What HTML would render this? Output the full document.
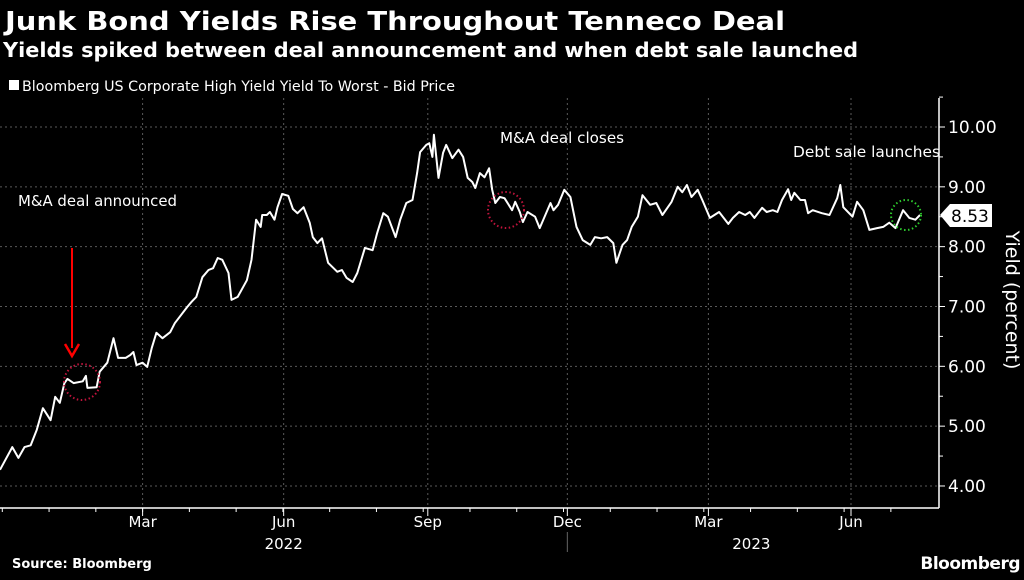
<!DOCTYPE html>
<html><head><meta charset="utf-8"><style>
body{margin:0;background:#000;width:1024px;height:576px;overflow:hidden;font-family:"DejaVu Sans","Liberation Sans",sans-serif;}
svg text{fill:#fff}
</style></head><body>
<svg id="chart" width="1024" height="576">
<text x="5" y="30" font-size="26" font-weight="bold" textLength="780" lengthAdjust="spacingAndGlyphs">Junk Bond Yields Rise Throughout Tenneco Deal</text>
<text x="3" y="57" font-size="20" font-weight="bold" textLength="855" lengthAdjust="spacingAndGlyphs">Yields spiked between deal announcement and when debt sale launched</text>
<rect x="9" y="80" width="10" height="10" fill="#fff"/>
<text x="22" y="91" font-size="14" textLength="433" lengthAdjust="spacingAndGlyphs">Bloomberg US Corporate High Yield Yield To Worst - Bid Price</text>
<g id="grid"></g><g id="axes"></g>
<path id="line" fill="none" stroke="#fff" stroke-width="2" stroke-linejoin="round"/>
<text x="18" y="206" font-size="15" textLength="159" lengthAdjust="spacingAndGlyphs">M&amp;A deal announced</text>
<line x1="72" y1="248" x2="72" y2="348" stroke="#f00" stroke-width="2"/>
<polyline points="65,344 72,356 79,344" fill="none" stroke="#f00" stroke-width="2.5"/>
<circle cx="82" cy="382" r="18" fill="none" stroke="#c0143c" stroke-width="2" stroke-dasharray="1.5 2.5"/>
<text x="500" y="143" font-size="15" textLength="124" lengthAdjust="spacingAndGlyphs">M&amp;A deal closes</text>
<circle cx="506" cy="210" r="18" fill="none" stroke="#c0143c" stroke-width="2" stroke-dasharray="1.5 2.5"/>
<text x="793" y="157" font-size="15" textLength="147" lengthAdjust="spacingAndGlyphs">Debt sale launches</text>
<circle cx="906" cy="215" r="15" fill="none" stroke="#2ecc2e" stroke-width="2" stroke-dasharray="1.5 2.5"/>
<polygon points="940,215 950,204 992,204 992,227 950,227" fill="#fff"/>
<text id="lastval" x="951" y="222" font-size="17" style="fill:#000">8.53</text>
<text transform="translate(1006,300) rotate(90)" text-anchor="middle" font-size="19">Yield (percent)</text>
<text x="12" y="568" font-size="13" font-weight="bold">Source: Bloomberg</text>
<text x="1020" y="569" font-size="17" font-weight="bold" text-anchor="end" letter-spacing="-0.5">Bloomberg</text>
</svg>
<script>
const days=[0,8,12,16,20,24,28,33,36,39,
42,44,48,54,56,57,63,65,70,74,
77,82,85,87,89,93,96,99,102,106,
111,114,122,125,128,132,136,139,142,145,
149,151,155,161,164,167,170,171,174,176,
179,181,184,188,191,194,198,202,204,207,
210,214,220,223,226,230,233,238,243,246,
250,253,258,261,265,269,272,274,278,280,
282,283,286,289,291,295,299,302,305,308,
310,313,316,319,321,323,326,329,334,336,
339,341,344,349,352,359,361,364,368,372,
376,380,385,388,392,396,400,402,406,409,
412,416,419,424,428,432,438,442,445,448,
451,455,458,463,469,475,478,482,486,489,
492,497,500,504,507,510,514,516,518,522,
525,527,530,536,541,546,548,550,556,559,
563,567,572,576,580,584,589,593,597,600];
const yields=[4.27,4.65,4.47,4.65,4.68,4.94,5.30,5.10,5.49,5.39,
5.72,5.79,5.72,5.75,5.84,5.64,5.65,5.91,6.06,6.47,
6.14,6.14,6.19,6.24,6.02,6.06,5.99,6.31,6.56,6.47,
6.57,6.72,6.99,7.08,7.16,7.49,7.61,7.64,7.81,7.78,
7.56,7.11,7.16,7.44,7.78,8.45,8.33,8.53,8.53,8.58,
8.45,8.66,8.88,8.85,8.63,8.56,8.66,8.40,8.16,8.06,
8.14,7.73,7.58,7.61,7.48,7.41,7.56,7.98,7.94,8.23,
8.56,8.50,8.16,8.45,8.73,8.78,9.23,9.58,9.70,9.73,
9.50,9.87,9.15,9.57,9.70,9.48,9.62,9.50,9.15,9.08,
8.98,9.23,9.16,9.31,8.95,8.73,8.83,8.81,8.61,8.75,
8.58,8.41,8.58,8.50,8.31,8.73,8.61,8.70,8.95,8.83,
8.33,8.11,8.03,8.16,8.14,8.16,8.06,7.73,8.03,8.11,
8.33,8.50,8.86,8.70,8.73,8.53,8.75,9.00,8.91,9.03,
8.83,8.95,8.78,8.48,8.58,8.38,8.48,8.58,8.53,8.58,
8.48,8.65,8.58,8.61,8.58,8.78,8.96,8.78,8.90,8.78,
8.78,8.56,8.61,8.56,8.53,8.81,9.03,8.66,8.50,8.75,
8.61,8.28,8.31,8.33,8.40,8.31,8.61,8.48,8.45,8.53];
const yTicks=[4,5,6,7,8,9,10];
const monthTickDays=[93,185,279,370,462,555];
const monthLabels=["Mar","Jun","Sep","Dec","Mar","Jun"];
const yearLabels=["2022","2023"];
const yearLabelDays=[185,490];
const yearSepDays=[370];
const NS="http://www.w3.org/2000/svg";
const X0=0,X1=920,D1=600,AXX=939,YB=508;
const x=d=>X0+d/D1*(X1-X0);
const y=v=>127+(10-v)*59.83;
function mk(tag,attrs,parent){const e=document.createElementNS(NS,tag);for(const k in attrs)e.setAttribute(k,attrs[k]);parent.appendChild(e);return e;}
const grid=document.getElementById('grid'),axes=document.getElementById('axes');
yTicks.forEach(t=>{
 const g=mk('line',{x1:0,x2:AXX,y1:y(t),y2:y(t),stroke:'#5a5a5a','stroke-dasharray':'2 3'},grid);
 
 
 const tk=mk('line',{x1:AXX,x2:AXX+6,y1:y(t),y2:y(t),stroke:'#fff'},axes);
 
 
 const h=mk('line',{x1:AXX,x2:AXX+4,y1:y(t+0.5),y2:y(t+0.5),stroke:'#fff'},axes);
 
 
 const l=mk('text',{x:AXX+9,y:y(t)+6,'font-size':17},axes);l.textContent=t.toFixed(2);
 
 
});
monthTickDays.forEach((d,i)=>{
 const g=mk('line',{x1:x(d),x2:x(d),y1:98,y2:YB,stroke:'#5a5a5a','stroke-dasharray':'2 3'},grid);
 
 
 const tk=mk('line',{x1:x(d),x2:x(d),y1:YB,y2:YB+8,stroke:'#fff'},axes);
 
 
 const l=mk('text',{x:x(d),y:527,'font-size':15,'text-anchor':'middle'},axes);l.textContent=monthLabels[i];
 
 
});
for(let d=0;d<D1;d+=30.5){const m=mk('line',{x1:x(d)+x(93%30.5)-x(0),x2:x(d)+x(93%30.5)-x(0),y1:YB,y2:YB+4,stroke:'#fff'},axes);
 
 }
yearLabels.forEach((s,i)=>{const l=mk('text',{x:x(yearLabelDays[i]),y:549,'font-size':15,'text-anchor':'middle'},axes);l.textContent=s;
 
 });
yearSepDays.forEach(d=>{const s=mk('line',{x1:x(d),x2:x(d),y1:532,y2:552,stroke:'#666'},axes);
 
 });
const xa=mk('line',{x1:0,x2:AXX,y1:YB,y2:YB,stroke:'#fff','stroke-width':1.5},axes);


const ya=mk('line',{x1:AXX,x2:AXX,y1:98,y2:YB,stroke:'#fff','stroke-width':1.5},axes);


document.getElementById('line').setAttribute('d',days.map((d,i)=>(i?'L':'M')+x(d).toFixed(1)+','+y(yields[i]).toFixed(1)).join(''));
document.getElementById('lastval').textContent=yields[yields.length-1].toFixed(2);
</script>
</body></html>
